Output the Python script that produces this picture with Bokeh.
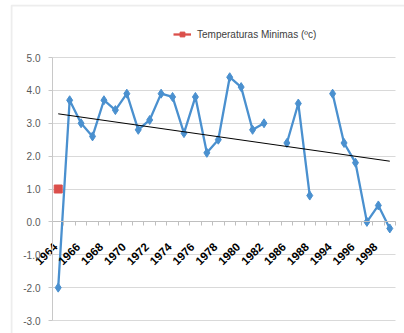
import numpy as np
from bokeh.plotting import figure
from bokeh.models import (Range1d, FixedTicker, PrintfTickFormatter, Legend, LegendItem,
                          ColumnDataSource, BoxAnnotation)
from bokeh.embed import file_html
from bokeh.resources import INLINE

# ---- data ----
years = ["1964", "1965", "1966", "1967", "1968", "1969", "1970", "1971", "1972", "1973",
         "1974", "1975", "1976", "1977", "1978", "1979", "1980", "1981", "1982", "1985",
         "1986", "1987", "1988", "1990", "1994", "1995", "1996", "1997", "1998", "1999"]
tmin = [-2.0, 3.7, 3.0, 2.6, 3.7, 3.4, 3.9, 2.8, 3.1, 3.9,
        3.8, 2.7, 3.8, 2.1, 2.5, 4.4, 4.1, 2.8, 3.0, None,
        2.4, 3.6, 0.8, None, 3.9, 2.4, 1.8, 0.0, 0.5, -0.2]
tmin_legend_series = [1.0] + [None] * 29
legend_label = "Temperaturas Minimas (ºc)"
y_ticks = [-3, -2, -1, 0, 1, 2, 3, 4, 5]
y_min, y_max = -3, 5

n = len(years)
xc = np.arange(n) + 0.5
vals = np.array([np.nan if v is None else v for v in tmin], dtype=float)
red = np.array([np.nan if v is None else v for v in tmin_legend_series], dtype=float)

# linear trend (Excel-style, on category index, ignoring blanks)
mask = ~np.isnan(vals)
slope, intercept = np.polyfit(xc[mask], vals[mask], 1)
trend_x = [xc[0], xc[-1]]
trend_y = [intercept + slope * xc[0], intercept + slope * xc[-1]]

FONT = "Liberation Sans"
BLUE = "#4a90cf"
RED = "#db4f4b"

# layout (pixels): the frame covers the whole chart area; the plot area
# (0..n, y_min..y_max) sits inside it at x 52..395, y 57..320
W, H = 404, 333
FL, FT = 10, 4
PL, PR, PT, PB = 52, 395, 57, 320
kx = (PR - PL) / n
ky = (PB - PT) / (y_max - y_min)
x_range = Range1d(-(PL - FL) / kx, n + (W - PR) / kx)
y_range = Range1d(y_min - (H - PB) / ky, y_max + (PT - FT) / ky)
label_shift = -0.25  # rotated labels end slightly left of the category centre

p = figure(width=W, height=H, output_backend="svg", toolbar_location=None,
           x_range=x_range, y_range=y_range,
           min_border_left=FL, min_border_top=FT, min_border_right=0, min_border_bottom=0)
p.outline_line_color = None
p.background_fill_color = "white"
p.border_fill_color = "white"

# outer chart border (left and top edges)
p.add_layout(BoxAnnotation(left=FL + 1, right=W + 50, top=FT + 1, bottom=H + 50,
                           left_units="canvas", right_units="canvas",
                           top_units="canvas", bottom_units="canvas",
                           fill_color=None, fill_alpha=0, line_color="#c4c4c4",
                           line_width=2, level="underlay"))

# y axis (at the left edge of the plot area)
yax = p.yaxis[0]
yax.fixed_location = 0
yax.bounds = (y_min, y_max)
yax.ticker = FixedTicker(ticks=y_ticks)
yax.formatter = PrintfTickFormatter(format="%.1f")
yax.axis_line_color = "#c8c8c8"
yax.major_tick_line_color = "#c8c8c8"
yax.major_tick_out = 4
yax.major_tick_in = 0
yax.minor_tick_line_color = None
yax.major_label_standoff = 8
yax.major_label_text_font = FONT
yax.major_label_text_font_size = "10px"
yax.major_label_text_color = "#595959"

p.ygrid.ticker = FixedTicker(ticks=y_ticks)
p.ygrid.cross_bounds = (0, n)
p.ygrid.grid_line_color = "#d9d9d9"
p.xgrid.grid_line_color = None

# x axis (crossing at 0)
xax = p.xaxis[0]
xax.fixed_location = 0
xax.bounds = (0, n)
label_pos = [float(v) + label_shift for v in xc[::2]]
xax.ticker = FixedTicker(ticks=label_pos, minor_ticks=list(range(0, n + 1)))
xax.major_label_overrides = {v: years[i * 2] for i, v in enumerate(label_pos)}
xax.axis_line_color = "#bfbfbf"
xax.major_tick_line_color = None
xax.minor_tick_line_color = "#bfbfbf"
xax.minor_tick_out = 4
xax.minor_tick_in = 0
xax.major_label_orientation = np.pi / 4
xax.major_label_standoff = 17
xax.major_label_text_font = FONT
xax.major_label_text_font_size = "11.5px"
xax.major_label_text_font_style = "bold"
xax.major_label_text_color = "#000000"

# series
src = ColumnDataSource(dict(x=xc, y=vals))
p.line("x", "y", source=src, line_color=BLUE, line_width=2.3)
p.scatter("x", "y", source=src, marker="diamond", size=9, fill_color=BLUE, line_color=BLUE)

rsrc = ColumnDataSource(dict(x=xc, y=red))
rl = p.line("x", "y", source=rsrc, line_color=RED, line_width=2.3)
rm = p.scatter("x", "y", source=rsrc, marker="square", size=8, fill_color=RED, line_color=RED)

p.line(trend_x, trend_y, line_color="black", line_width=1)

legend = Legend(items=[LegendItem(label=legend_label, renderers=[rl, rm])],
                location=(173 - FL, H - 40), orientation="horizontal",
                padding=0, margin=0, spacing=0,
                glyph_width=18, glyph_height=12, label_height=12, label_standoff=6,
                label_text_font=FONT, label_text_font_size="10px",
                label_text_color="#404040",
                background_fill_alpha=0, border_line_color=None)
p.add_layout(legend, "center")

open("out.html", "w").write(file_html(p, INLINE))
